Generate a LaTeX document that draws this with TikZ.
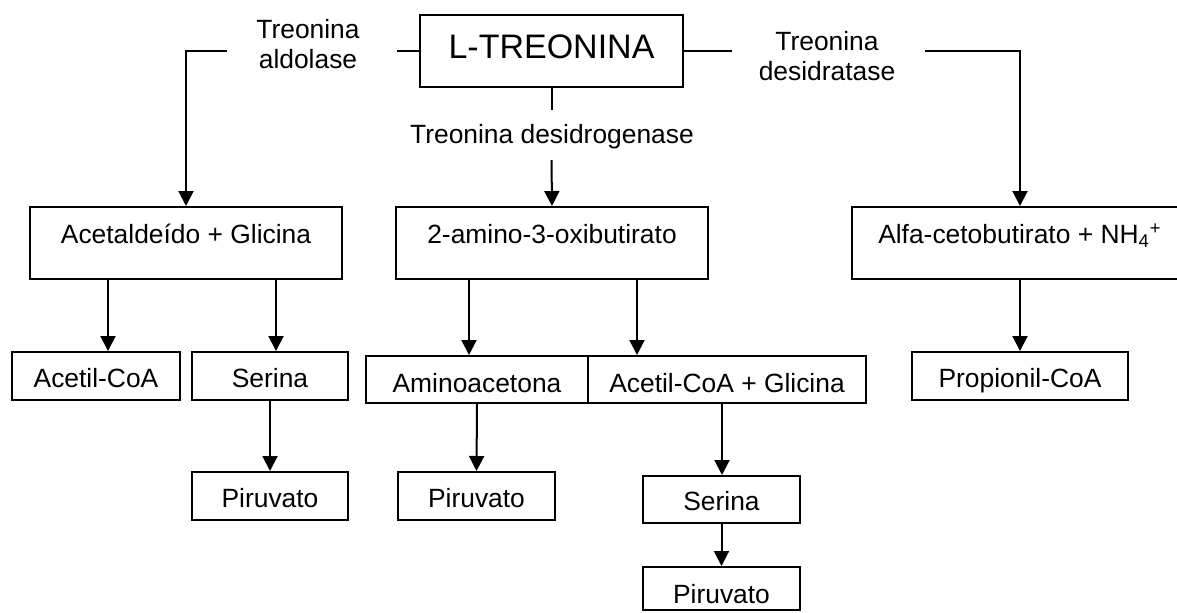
\documentclass[tikz,border=0pt]{standalone}
\usepackage{fontspec}
\setmainfont{Liberation Sans}
\usetikzlibrary{arrows.meta}
\begin{document}
\begin{tikzpicture}[x=0.5pt,y=-0.5pt,
  ln/.style={line width=1pt},
  arr/.style={ln,-{Triangle[width=7.5pt,length=7.5pt]}},
  box/.style={draw,line width=1pt,inner sep=0pt,font=\fontsize{13.2}{15}\selectfont},
  sbox/.style={box,text height=17.5pt,text depth=6.5pt},
  bbox/.style={box,text height=18pt,text depth=18pt},
  lbl/.style={inner sep=0pt,align=center,font=\fontsize{13.2}{15}\selectfont}]
\clip (0,0) rectangle (1177,612);
% boxes
\node[box,minimum width=131.5pt,text height=21.5pt,text depth=14.5pt,font=\fontsize{17}{20}\selectfont] (treo) at (551.5,51) {L-TREONINA};
\node[bbox,minimum width=156pt] (acet) at (186,243) {Acetaldeído + Glicina};
\node[bbox,minimum width=156pt] (amino) at (552,243) {2-amino-3-oxibutirato};
\node[bbox,minimum width=168pt] (alfa) at (1020,243) {Alfa-cetobutirato + NH\textsubscript{4}\textsuperscript{+}};
\node[sbox,minimum width=84pt] (acoa1) at (96,376) {Acetil-CoA};
\node[sbox,minimum width=78pt] (ser1) at (270,376) {Serina};
\node[box,minimum width=111pt,text height=18pt,text depth=5.5pt] (amac) at (477,379.5) {Aminoacetona};
\node[box,minimum width=139pt,text height=18pt,text depth=5.5pt] (acgl) at (727,379.5) {Acetil-CoA + Glicina};
\node[sbox,minimum width=108pt] (prop) at (1020,376) {Propionil-CoA};
\node[sbox,minimum width=78pt] (pir1) at (270,496) {Piruvato};
\node[sbox,minimum width=78.5pt] (pir2) at (476.5,496) {Piruvato};
\node[box,minimum width=78.5pt,text height=17pt,text depth=6.5pt] (ser2) at (721.5,499.5) {Serina};
\node[box,minimum width=78.5pt,text height=18pt,text depth=3.5pt] (pir3) at (721.5,588.5) {Piruvato};
% enzyme labels
\node[lbl] (aldo) at (308,44) {Treonina\\aldolase};
\node[lbl] (desid) at (827,56) {Treonina\\desidratase};
\node[lbl,anchor=base] (desig) at (552,143) {Treonina desidrogenase};
% free ends
\coordinate (aR) at (397,51);
\coordinate (aL) at (227,51);
\coordinate (dL) at (732,51);
\coordinate (dR) at (925,51);
\coordinate (gT) at (551.5,110);
\coordinate (gB) at (551.5,160);
\coordinate (x1) at (108,0);
\coordinate (x2) at (276,0);
\coordinate (x3) at (469,0);
\coordinate (x4) at (637,0);
\coordinate (x5) at (722,0);
% connectors
\draw[ln] (treo.west) -- (aR);
\draw[arr] (aL) -| (acet.north);
\draw[ln] (treo.east) -- (dL);
\draw[arr] (dR) -| (alfa.north);
\draw[ln] (treo.south) -- (gT);
\draw[arr] (gB) -- (amino.north);
\draw[arr] (acet.south -| x1) -- (acoa1.north -| x1);
\draw[arr] (acet.south -| x2) -- (ser1.north -| x2);
\draw[arr] (ser1.south) -- (pir1.north);
\draw[arr] (amino.south -| x3) -- (amac.north -| x3);
\draw[arr] (amino.south -| x4) -- (acgl.north -| x4);
\draw[arr] (amac.south) -- (pir2.north);
\draw[arr] (acgl.south -| x5) -- (ser2.north -| x5);
\draw[arr] (ser2.south) -- (pir3.north);
\draw[arr] (alfa.south) -- (prop.north);
\end{tikzpicture}
\end{document}
